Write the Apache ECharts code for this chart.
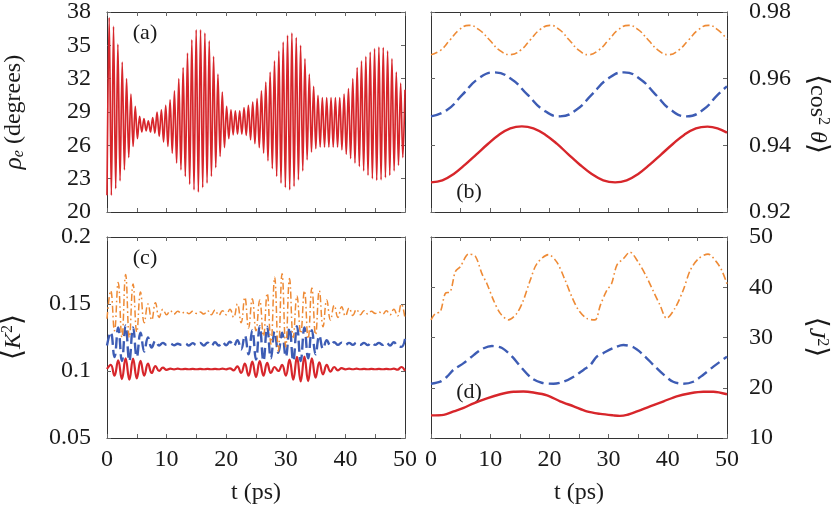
<!DOCTYPE html>
<html><head><meta charset="utf-8">
<script src="https://cdn.jsdelivr.net/npm/echarts@6/dist/echarts.min.js"></script>
<style>html,body{margin:0;padding:0;background:#fff}#c{width:832px;height:513px}</style>
</head><body><div id="c"></div>
<script>
// ---------- data ----------
// (a) rho_e: alternating trough/peak samples, half-period step
const rhoStep = 50 / 137;
const rhoTroughs = [21.5,21.5,22.1,22.8,23.8,24.9,25.9,26.6,27.2,27.3,27.2,27.1,26.8,26.3,25.9,25.3,24.4,23.8,23.2,22.5,22.0,21.8,22.2,22.6,23.2,24.0,25.0,25.8,26.6,26.95,27.0,27.0,26.9,26.5,26.15,25.8,25.3,24.6,23.9,23.2,22.6,22.2,22.0,22.3,22.9,23.7,24.7,25.4,25.7,25.85,25.85,25.85,25.85,25.85,25.6,25.2,24.8,24.4,24.1,23.7,23.3,23.0,22.85,22.9,23.1,23.3,23.7,24.2,24.9];
const rhoPeaks = [37.5,36.7,35.1,33.5,32.0,30.6,29.5,28.6,28.4,28.2,28.5,29.0,29.2,29.6,30.1,30.9,32.0,33.0,34.3,35.5,36.4,36.4,36.1,35.4,34.0,32.4,30.8,29.5,29.2,29.1,29.1,29.4,29.6,29.9,30.2,30.9,31.7,32.6,33.6,34.5,35.3,35.9,36.1,35.7,35.0,33.8,32.4,31.3,30.5,30.3,30.3,30.3,30.3,30.3,30.6,31.1,32.0,33.0,33.6,34.0,34.4,34.7,34.85,34.8,34.5,33.8,32.6,31.6,31.0];

// (b) <cos^2 theta>
const cosOrangeT = [0,1.6,3.2,4.8,6.4,8.1,9.9,11.6,13.4,15.1,16.75,18.4,20.1,21.7,23.35,25.0,26.6,28.3,30.0,31.65,33.35,35.0,36.7,38.4,40.1,41.8,43.5,45.2,46.85,48.4,50];
const cosOrangeV = [0.9672,0.9685,0.9716,0.9747,0.9760,0.9747,0.9716,0.9685,0.9672,0.9685,0.9716,0.9747,0.9760,0.9747,0.9716,0.9685,0.9672,0.9685,0.9716,0.9747,0.9760,0.9747,0.9716,0.9685,0.9672,0.9685,0.9716,0.9747,0.9760,0.9747,0.9718];
const cosBlueT = [0,2.7,5.35,8.0,10.7,13.5,16.25,19.0,21.8,24.5,27.2,29.9,32.6,35.25,37.9,40.55,43.2,45.9,48.5,50];
const cosBlueV = [0.9487,0.9506,0.9553,0.9600,0.9619,0.9600,0.9553,0.9506,0.9487,0.9506,0.9553,0.9600,0.9619,0.9600,0.9553,0.9506,0.9487,0.9506,0.9553,0.9577];
const cosRedT = [0,1.92,3.84,5.76,7.68,9.6,11.5,13.4,15.35,17.3,19.3,21.25,23.2,25.2,27.15,29.1,31.1,33.05,35.0,36.95,38.9,40.85,42.8,44.75,46.7,48.4,50];
const cosRedV = [0.9289,0.9295,0.9314,0.9342,0.9373,0.9404,0.9432,0.9451,0.9457,0.9451,0.9432,0.9405,0.9373,0.9341,0.9314,0.9295,0.9289,0.9295,0.9314,0.9342,0.9373,0.9404,0.9432,0.9451,0.9456,0.9451,0.9438];

// (c) <K^2>, sampled every 0.625 ps
const kStep = 0.625;
const k2Red = [0.1015,0.1045,0.0965,0.1080,0.0940,0.1095,0.0935,0.1093,0.0945,0.1075,
0.0965,0.1055,0.0985,0.1037,0.1000,0.1025,0.1008,0.1018,0.1012,0.1017,
0.1013,0.1016,0.1013,0.1016,0.1013,0.1016,0.1013,0.1016,0.1013,0.1016,
0.1013,0.1017,0.1012,0.1020,0.1005,0.1035,0.0985,0.1055,0.0965,0.1070,
0.0955,0.1073,0.0965,0.1060,0.0985,0.1030,0.1000,0.1045,0.0965,0.1085,
0.0935,0.1105,0.0922,0.1108,0.0925,0.1095,0.0950,0.1065,0.0975,0.1045,
0.0995,0.1030,0.1005,0.1021,0.1012,0.1018,0.1013,0.1017,0.1013,0.1016,
0.1013,0.1016,0.1013,0.1016,0.1013,0.1016,0.1013,0.1017,0.1010,0.1030,0.1002];
const k2Blue = [0.1190,0.1290,0.1105,0.1325,0.1075,0.1340,0.1075,0.1325,0.1105,0.1285,
0.1145,0.1250,0.1175,0.1225,0.1190,0.1210,0.1195,0.1205,0.1192,0.1203,
0.1195,0.1205,0.1190,0.1208,0.1193,0.1210,0.1190,0.1212,0.1188,0.1215,
0.1190,0.1215,0.1192,0.1218,0.1185,0.1230,0.1160,0.1265,0.1125,0.1305,
0.1085,0.1335,0.1075,0.1330,0.1095,0.1295,0.1135,0.1285,0.1105,0.1325,
0.1075,0.1335,0.1075,0.1325,0.1095,0.1305,0.1125,0.1265,0.1165,0.1230,
0.1190,0.1215,0.1195,0.1212,0.1195,0.1210,0.1195,0.1212,0.1195,0.1210,
0.1193,0.1212,0.1195,0.1210,0.1195,0.1212,0.1190,0.1215,0.1188,0.1180,0.1240];
const k2Orange = [0.1390,0.1600,0.1300,0.1660,0.1250,0.1720,0.1250,0.1650,0.1290,0.1590,
0.1360,0.1500,0.1380,0.1510,0.1400,0.1460,0.1420,0.1450,0.1425,0.1445,
0.1430,0.1442,0.1428,0.1445,0.1430,0.1440,0.1425,0.1450,0.1420,0.1455,
0.1415,0.1450,0.1420,0.1460,0.1400,0.1500,0.1360,0.1550,0.1320,0.1540,
0.1300,0.1530,0.1260,0.1580,0.1200,0.1700,0.1150,0.1725,0.1180,0.1690,
0.1250,0.1560,0.1280,0.1600,0.1240,0.1620,0.1270,0.1600,0.1330,0.1530,
0.1380,0.1490,0.1400,0.1480,0.1410,0.1470,0.1415,0.1460,0.1420,0.1450,
0.1425,0.1445,0.1430,0.1440,0.1425,0.1450,0.1420,0.1460,0.1410,0.1500,0.1390];

// (d) <J^2>
const j2OrangeT = [0,0.73,1.57,2.42,3.26,4.11,4.95,6.36,7.48,8.6,9.45,10.57,11.7,13.1,14.5,15.6,16.76,17.9,19.85,21.26,22.66,23.79,24.9,26.3,27.7,28.6,29.7,30.5,31.4,32.5,33.6,35.0,36.4,37.6,38.7,39.8,41.2,42.6,43.8,45.2,46.8,48.25,49.1,50];
const j2OrangeV = [33.5,34.8,35.1,38.8,39.1,43.1,44.1,46.6,46.2,42.7,40.7,37.4,34.8,33.5,34.8,37.4,41.4,44.7,46.5,45.0,41.4,38.1,35.5,33.8,33.5,36.4,39.4,40.7,44.4,45.7,47.0,45.0,42.1,39.1,36.4,33.8,35.8,39.4,43.4,45.7,46.6,45.0,43.4,40.7];
const j2BlueT = [0,1.57,2.7,3.82,5.51,7.2,8.6,10.3,12.0,13.7,15.35,17.0,18.7,20.7,22.4,24.1,25.8,26.9,28.0,29.1,30.8,32.5,34.2,35.9,37.6,39.3,40.9,42.6,44.3,46.0,47.7,50];
const j2BlueV = [20.8,21.2,22.2,23.6,24.9,26.5,27.7,28.3,27.9,26.2,23.9,21.9,21.0,20.8,21.2,22.2,23.6,24.5,26.2,26.9,27.9,28.5,28.05,26.5,24.5,22.6,21.2,20.8,21.2,22.6,24.2,26.2];
const j2RedT = [0,2.14,3.82,5.51,7.2,9.45,11.7,13.95,15.6,17.3,19.6,21.8,24.1,26.3,28.6,30.8,31.9,33.1,34.8,37.0,39.3,41.5,43.8,46.0,47.7,50];
const j2RedV = [14.5,14.6,15.3,16.0,16.9,17.9,18.7,19.2,19.25,19.05,18.5,17.3,16.3,15.3,14.8,14.5,14.4,14.6,15.3,16.3,17.3,18.3,18.9,19.2,19.2,18.7];

// ---------- build ----------
const SERIF = '"Liberation Serif","Times New Roman",serif';
const RED = '#d7262b', BLUE = '#3d5cb4', ORANGE = '#ee8a35';
const FRAME = '#333', TXT = '#1a1a1a';

const zip = (t, v) => t.map((x, i) => [x, v[i]]);
const stepped = (v, s) => v.map((y, i) => [i * s, y]);
const rhoData = [];
for (let k = 0; k < rhoPeaks.length; k++) {
  rhoData.push(rhoTroughs[k], rhoPeaks[k]);
}

const grids = [
  {left:107, top:11, width:298, height:201},
  {left:431, top:11, width:296, height:201},
  {left:107, top:237, width:298, height:201},
  {left:431, top:237, width:296, height:201}
];

function axisBase(gi) {
  return {
    type:'value', gridIndex:gi, scale:true,
    axisLine:{show:true, onZero:false, lineStyle:{color:FRAME, width:1}},
    axisTick:{show:true, inside:true, length:4, lineStyle:{color:'#666', width:1}},
    splitLine:{show:false}
  };
}
const xAxes = [], yAxes = [];
function addX(gi, labels) {
  xAxes.push(Object.assign(axisBase(gi), {position:'bottom', min:0, max:50, interval:5,
    axisLabel:{show:labels, margin:10, fontFamily:SERIF, fontSize:24, color:TXT,
      formatter: v => (Math.round(v) % 10 === 0 ? String(Math.round(v)) : '')}}));
  xAxes.push(Object.assign(axisBase(gi), {position:'top', min:0, max:50, interval:5, axisLabel:{show:false}}));
}
function addY(gi, min, max, interval, side, fmt) {
  const lab = (show, margin) => ({show, margin, fontFamily:SERIF, fontSize:24, color:TXT, formatter: fmt});
  yAxes.push(Object.assign(axisBase(gi), {position:'left', min, max, interval, axisLabel:lab(side === 'left', 16)}));
  yAxes.push(Object.assign(axisBase(gi), {position:'right', min, max, interval, axisLabel:lab(side === 'right', 22)}));
}
addX(0, false); addX(1, false); addX(2, true); addX(3, true);
addY(0, 20, 38, 3, 'left', v => String(Math.round(v)));
addY(1, 0.92, 0.98, 0.02, 'right', v => v.toFixed(2));
addY(2, 0.05, 0.2, 0.05, 'left', v => String(parseFloat(v.toFixed(2))));
addY(3, 10, 50, 10, 'right', v => String(Math.round(v)));

function line(gi, data, color, width, type, smooth) {
  return {type:'line', xAxisIndex:gi * 2, yAxisIndex:gi * 2, data, showSymbol:false, symbol:'none',
    smooth: smooth, silent:true, animation:false,
    lineStyle:{color, width, type, cap:'butt', join:'round'}};
}
const DASH = [11, 5];
const DASHDOT = [7, 3, 1.6, 3];

const series = [
  line(0, stepped(rhoData, rhoStep), RED, 1.7, 'solid', 0.35),
  line(1, zip(cosRedT, cosRedV), RED, 2.4, 'solid', 0.4),
  line(1, zip(cosBlueT, cosBlueV), BLUE, 2.4, DASH, 0.5),
  line(1, zip(cosOrangeT, cosOrangeV), ORANGE, 1.6, DASHDOT, 0.5),
  line(2, stepped(k2Red, kStep), RED, 2.2, 'solid', 0.45),
  line(2, stepped(k2Blue, kStep), BLUE, 2.4, DASH, 0.45),
  line(2, stepped(k2Orange, kStep), ORANGE, 1.5, DASHDOT, 0.45),
  line(3, zip(j2RedT, j2RedV), RED, 2.4, 'solid', 0.3),
  line(3, zip(j2BlueT, j2BlueV), BLUE, 2.4, DASH, 0.3),
  line(3, zip(j2OrangeT, j2OrangeV), ORANGE, 1.6, DASHDOT, 0.3)
];

function rt(base) {
  return Object.assign({fontFamily:SERIF, fill:TXT}, base);
}
const richSet = {
  n: rt({fontSize:24}),
  i: rt({fontSize:24, fontStyle:'italic'}),
  g: rt({fontSize:25, fontStyle:'italic'}),
  s: rt({fontSize:16, fontStyle:'italic', verticalAlign:'bottom', lineHeight:4}),
  p: rt({fontSize:16, verticalAlign:'top', lineHeight:10}),
  b: rt({fontSize:28, fontFamily:'"DejaVu Serif",serif'})
};
function txt(x, y, text, rot, size) {
  return {type:'text', x, y, rotation:rot || 0, silent:true,
    style:{text, align:'center', verticalAlign:'middle', fontFamily:SERIF, fontSize:size || 24, fill:TXT, rich:richSet}};
}
const graphic = [
  txt(14, 112, '{g|ρ}{s|e}{n| (degrees)}', Math.PI / 2),
  txt(14, 337, '{b|⟨}{i|K}{p|2}{b|⟩}', Math.PI / 2),
  txt(817, 114, '{b|⟨}{n|cos}{p|2}{i| θ}{b|⟩}', -Math.PI / 2),
  txt(816, 337, '{b|⟨}{i|J}{p|2}{b|⟩}', -Math.PI / 2),
  txt(256, 493, 't (ps)', 0, 24),
  txt(579, 493, 't (ps)', 0, 24),
  txt(145, 33, '(a)', 0, 22),
  txt(469, 192, '(b)', 0, 22),
  txt(145, 258, '(c)', 0, 22),
  txt(469, 392, '(d)', 0, 22)
];

const chart = echarts.init(document.getElementById('c'), null, {renderer:'canvas'});
chart.setOption({
  animation:false,
  backgroundColor:'#fff',
  grid: grids,
  xAxis: xAxes,
  yAxis: yAxes,
  series,
  graphic
});
</script></body></html>
